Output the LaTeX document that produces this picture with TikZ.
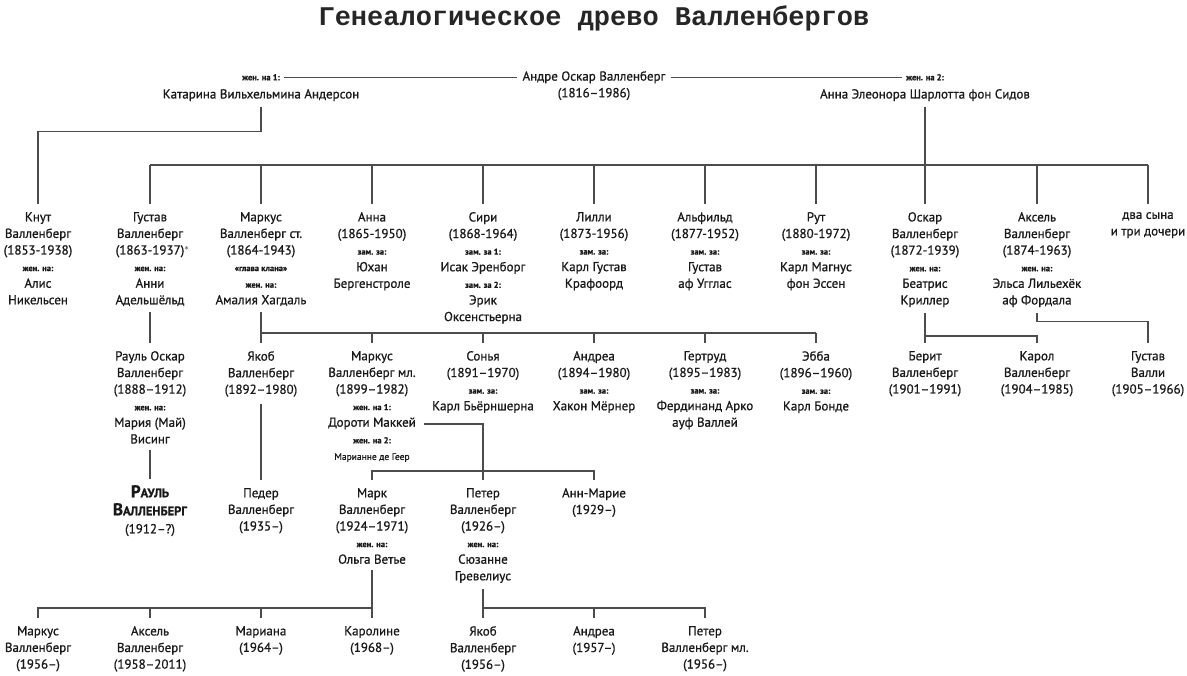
\documentclass[tikz,border=0pt]{standalone}
\usepackage{fontspec}
\setmainfont{PT Sans}[FakeBold=0.8]
\newfontfamily\ttl{Liberation Mono}
\newcommand\nm{\fontsize{13}{16.6}\selectfont}
\newcommand\sm[1]{{\bfseries\fontsize{8.5}{16.6}\selectfont #1}}
\tikzset{p/.style={anchor=north,align=center,inner sep=0pt,font=\nm,text=black!90},
 ln/.style={line width=1.2pt,draw=black!70},
 tk/.style={yshift=8pt}}
\begin{document}
\begin{tikzpicture}[x=1pt,y=-1pt]
\useasboundingbox[fill=white] (0,0) rectangle (1187,676);
\node[font=\ttl\bfseries\fontsize{27}{30}\selectfont,text=black!85] (title) at (594,18) {Генеалогическое древо Валленбергов};
% top generation
\node[p] (andre) at (594,71) {Андре Оскар Валленберг\\(1816–1986)};
\node[p,font=\bfseries\fontsize{8.5}{10}\selectfont] (k1) at (261,74) {жен. на 1:};
\node[p] (kat) at (261,89) {Катарина Вильхельмина Андерсон};
\node[p,font=\bfseries\fontsize{8.5}{10}\selectfont] (a2) at (925,74) {жен. на 2:};
\node[p] (ann) at (925,89) {Анна Элеонора Шарлотта фон Сидов};
\draw[ln] ([xshift=4pt]k1.east) -- ([xshift=-5pt]andre.west|-k1.east);
\draw[ln] ([xshift=5pt]andre.east|-a2.west) -- ([xshift=-4pt]a2.west);
% row 1
\node[p] (knut) at (38,212) {Кнут\\Валленберг\\(1853-1938)\\\sm{жен. на:}\\Алис\\Никельсен};
\node[p] (gust) at (150,212) {Густав\\Валленберг\\(1863-1937)\rlap{$^*$}\\\sm{жен. на:}\\Анни\\Адельшёльд};
\node[p] (marsr) at (261,212) {Маркус\\Валленберг ст.\\(1864-1943)\\\sm{«глава клана»}\\\sm{жен. на:}\\Амалия Хагдаль};
\node[p] (anna) at (372,212) {Анна\\(1865-1950)\\\sm{зам. за:}\\Юхан\\Бергенстроле};
\node[p] (siri) at (483,212) {Сири\\(1868-1964)\\\sm{зам. за 1:}\\Исак Эренборг\\\sm{зам. за 2:}\\Эрик\\Оксенстьерна};
\node[p] (lilli) at (594,212) {Лилли\\(1873-1956)\\\sm{зам. за:}\\Карл Густав\\Крафоорд};
\node[p] (alf) at (705,212) {Альфильд\\(1877-1952)\\\sm{зам. за:}\\Густав\\аф Угглас};
\node[p] (rut) at (816,212) {Рут\\(1880-1972)\\\sm{зам. за:}\\Карл Магнус\\фон Эссен};
\node[p] (osk) at (925,212) {Оскар\\Валленберг\\(1872-1939)\\\sm{жен. на:}\\Беатрис\\Криллер};
\node[p] (axel) at (1037,212) {Аксель\\Валленберг\\(1874-1963)\\\sm{жен. на:}\\Эльса Лильехёк\\аф Фордала};
\node[p] (two) at (1148,212) {два сына\\и три дочери};
\draw[ln] ([yshift=-6pt]kat.south) -- ++(0,24) -| ([tk]knut.north);
\draw[ln] ([yshift=-6pt]ann.south) -- ([tk]osk.north);
\coordinate (bar1) at (0,165);
\draw[ln] (gust.north|-bar1) -- (two.north|-bar1);
\foreach \n in {gust,marsr,anna,siri,lilli,alf,rut,axel,two}
  \draw[ln] (\n.north|-bar1) -- ([tk]\n.north);
% row 2
\node[p] (raulo) at (150,351) {Рауль Оскар\\Валленберг\\(1888–1912)\\\sm{жен. на:}\\Мария (Май)\\Висинг};
\node[p] (jak) at (261,351) {Якоб\\Валленберг\\(1892–1980)};
\node[p] (marml) at (372,351) {Маркус\\Валленберг мл.\\(1899–1982)\\\sm{жен. на 1:}\\Дороти Маккей\\\sm{жен. на 2:}\\{\fontsize{9.5}{16.6}\selectfont Марианне де Геер}};
\node[p] (sonj) at (483,351) {Сонья\\(1891–1970)\\\sm{зам. за:}\\Карл Бьёрншерна};
\node[p] (andr) at (594,351) {Андреа\\(1894–1980)\\\sm{зам. за:}\\Хакон Мёрнер};
\node[p] (gert) at (705,351) {Гертруд\\(1895–1983)\\\sm{зам. за:}\\Фердинанд Арко\\ауф Валлей};
\node[p] (ebba) at (816,351) {Эбба\\(1896–1960)\\\sm{зам. за:}\\Карл Бонде};
\node[p] (ber) at (925,351) {Берит\\Валленберг\\(1901–1991)};
\node[p] (kar) at (1037,351) {Карол\\Валленберг\\(1904–1985)};
\node[p] (gv) at (1148,351) {Густав\\Валли\\(1905–1966)};
\draw[ln] ([yshift=-6pt]gust.south) -- ([tk]raulo.north);
\coordinate (bar2) at (0,333);
\draw[ln] ([yshift=-6pt]marsr.south) -- (marsr.south|-bar2) -- (ebba.north|-bar2);
\foreach \n in {jak,marml,sonj,andr,gert,ebba}
  \draw[ln] (\n.north|-bar2) -- ([tk]\n.north);
\coordinate (bar3) at (0,336);
\draw[ln] ([yshift=-6pt]osk.south) -- (osk.south|-bar3) -| ([tk]kar.north);
\draw[ln] ([yshift=-6pt]osk.south) -- ([tk]ber.north);
\draw[ln] ([yshift=-6pt]axel.south) -- ++(0,8) -| ([tk]gv.north);
% row 3
\node[p,font=\bfseries\fontsize{12.5}{18}\selectfont] (raul) at (150,485) {{\fontsize{17}{18}\selectfont Р}АУЛЬ\\{\fontsize{17}{18}\selectfont В}АЛЛЕНБЕРГ\\\normalfont\nm(1912–?)};
\node[p] (ped) at (261,488) {Педер\\Валленберг\\(1935–)};
\node[p] (mark) at (372,488) {Марк\\Валленберг\\(1924–1971)\\\sm{жен. на:}\\Ольга Ветье};
\node[p] (pet) at (483,488) {Петер\\Валленберг\\(1926–)\\\sm{жен. на:}\\Сюзанне\\Гревелиус};
\node[p] (am) at (594,488) {Анн-Марие\\(1929–)};
\draw[ln] ([yshift=-6pt]raulo.south) -- ([yshift=6pt]raul.north);
\draw[ln] ([yshift=-7pt]jak.south) -- ([tk]ped.north);
\coordinate (dor) at (424,424);
\coordinate (bar4) at (0,471);
\draw[ln] (dor) -| ([tk]pet.north);
\draw[ln] ([tk]mark.north) -- (mark.north|-bar4) -- (am.north|-bar4) -- ([tk]am.north);
% row 4
\node[p] (m2) at (38,626) {Маркус\\Валленберг\\(1956–)};
\node[p] (ax2) at (150,626) {Аксель\\Валленберг\\(1958–2011)};
\node[p] (mar) at (261,626) {Мариана\\(1964–)};
\node[p] (car) at (372,626) {Каролине\\(1968–)};
\node[p] (jak2) at (483,626) {Якоб\\Валленберг\\(1956–)};
\node[p] (and2) at (594,626) {Андреа\\(1957–)};
\node[p] (pet2) at (705,626) {Петер\\Валленберг мл.\\(1956–)};
\coordinate (bar5) at (0,608);
\draw[ln] ([yshift=-6pt]mark.south) -- (mark.south|-bar5) -- (m2.north|-bar5) -- ([tk]m2.north);
\foreach \n in {ax2,mar,car} \draw[ln] (\n.north|-bar5) -- ([tk]\n.north);
\draw[ln] ([yshift=-6pt]pet.south) -- (pet.south|-bar5) -- (pet2.north|-bar5) -- ([tk]pet2.north);
\foreach \n in {jak2,and2} \draw[ln] (\n.north|-bar5) -- ([tk]\n.north);
\end{tikzpicture}
\end{document}
